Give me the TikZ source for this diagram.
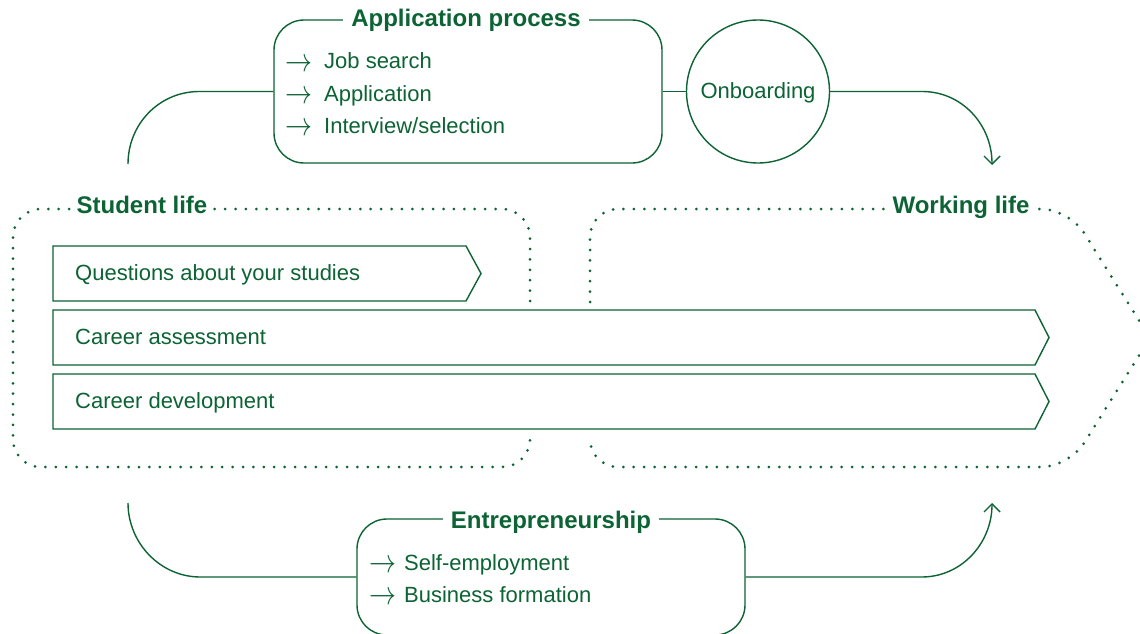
\documentclass[tikz,border=0pt]{standalone}
\usepackage{fontspec}
\usepackage{graphicx}
\setmainfont{Liberation Sans}
\usetikzlibrary{arrows.meta}
\definecolor{grn}{HTML}{0C6334}
\newcommand{\itemarrow}{\raisebox{-2pt}{\scalebox{1.3}[1.6]{$\rightarrow$}}}
\begin{document}
\begin{tikzpicture}[x=1pt,y=-1pt,
  line/.style={draw=grn, line width=1.4pt},
  dots/.style={draw=grn, line width=3pt, line cap=round, dash pattern=on 0pt off 10.4pt},
  lbl/.style={text=grn, font=\fontsize{22}{26}\selectfont, inner sep=0pt},
  ttl/.style={text=grn, font=\fontsize{24}{28}\selectfont\bfseries, fill=white, inner xsep=8pt, inner ysep=2pt},
  tip/.style={-{Straight Barb[length=8pt,width=16pt,line width=1.4pt]}},
]
\useasboundingbox (0,0) rectangle (1140,634);
\clip (0,0) rectangle (1140,634);
\fill[white] (0,0) rectangle (1140,634);

% dotted regions
\draw[dots, rounded corners=28] (530,301) -- (530,209) -- (13,209) -- (13,467) -- (530,467) -- (530,437);
\node[ttl, inner xsep=6pt, anchor=base] (sl) at (142,213) {Student life};

\draw[dots, rounded corners=28] (590,302) -- (590,209) -- (1069,209) -- (1150,338);
\draw[dots, rounded corners=28] (1150,338) -- (1069,467) -- (590,467) -- (590,438);
\node[ttl, inner xsep=6pt, anchor=base] (wl) at (961,213) {Working life};

% bars
\draw[line] (53,246) -- (466,246) -- (481,273.5) -- (466,301) -- (53,301) -- cycle;
\draw[line] (53,310) -- (1035,310) -- (1049,337.5) -- (1035,365) -- (53,365) -- cycle;
\draw[line] (53,374) -- (1035,374) -- (1049,401.5) -- (1035,429) -- (53,429) -- cycle;
\node[lbl, anchor=base west] (q) at (75,280) {Questions about your studies};
\node[lbl, anchor=base west] (ca) at (75,344) {Career assessment};
\node[lbl, anchor=base west] (cd) at (75,408) {Career development};

% application process
\node[line, rounded corners=30, minimum width=388pt, minimum height=143pt, inner sep=0pt] (app) at (468,91.5) {};
\node[ttl, anchor=base] (appt) at (466,27) {Application process};
\node[lbl, anchor=base west] (a1) at (285,69) {\makebox[39pt][l]{\itemarrow}Job search};
\node[lbl, anchor=base west] (a2) at (285,101) {\makebox[39pt][l]{\itemarrow}Application};
\node[lbl, anchor=base west] (a3) at (285,133) {\makebox[39pt][l]{\itemarrow}Interview/selection};

% onboarding
\node[line, circle, minimum size=143pt, inner sep=0pt] (onb) at (758,91.5) {};
\node[lbl, anchor=base] (onbt) at (758,98) {Onboarding};

% entrepreneurship
\node[line, rounded corners=30, minimum width=388pt, minimum height=116pt, inner sep=0pt] (ent) at (551,577) {};
\node[ttl, anchor=base] (entt) at (551,528) {Entrepreneurship};
\node[lbl, anchor=base west] (e1) at (369,570) {\makebox[35pt][l]{\itemarrow}Self-employment};
\node[lbl, anchor=base west] (e2) at (369,602) {\makebox[35pt][l]{\itemarrow}Business formation};

% connectors
\coordinate (sl0) at (128,164);
\coordinate (wl0) at (992,165);
\coordinate (bl0) at (128,503);
\coordinate (wl1) at (992,503);
\draw[line] (app.east) -- (onb.west);
\draw[line] (app.west) -- ++(-74,0) .. controls +(-40,0) and +(0,-40) .. (sl0);
\draw[line, tip] (onb.east) -- ++(92,0) .. controls +(40,0) and +(0,-40) .. (wl0);
\draw[line] (ent.west) -- ++(-156,0) .. controls +(-40,0) and +(0,40) .. (bl0);
\draw[line, tip] (ent.east) -- ++(176,0) .. controls +(40,0) and +(0,40) .. (wl1);
\end{tikzpicture}
\end{document}
